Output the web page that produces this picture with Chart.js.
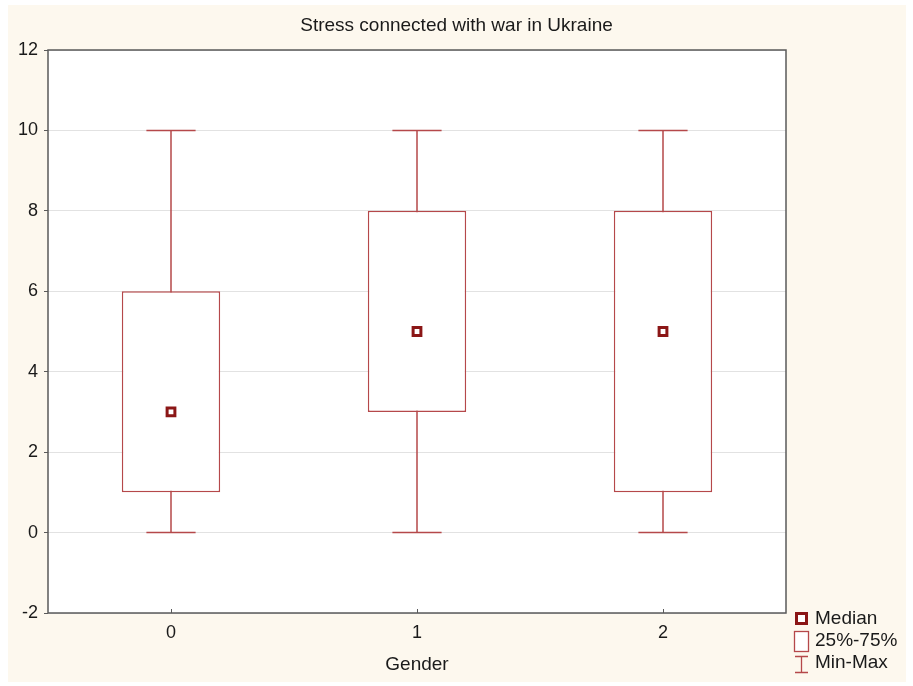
<!DOCTYPE html>
<html>
<head>
<meta charset="utf-8">
<script src="https://cdn.jsdelivr.net/npm/chart.js@4/dist/chart.umd.min.js"></script>
<style>
html,body{margin:0;padding:0;background:#ffffff;}
#wrap{width:913px;height:686px;position:relative;}
</style>
</head>
<body>
<div id="wrap"><canvas id="c" width="913" height="686"></canvas></div>
<script>
const categories = ['0', '1', '2'];
const minValues = [0, 0, 0];
const q1Values = [1, 3, 1];
const medianValues = [3, 5, 5];
const q3Values = [6, 8, 8];
const maxValues = [10, 10, 10];
const yTicks = [-2, 0, 2, 4, 6, 8, 10, 12];
const legendLabels = ['Median', '25%-75%', 'Min-Max'];

const BOX_COLOR = '#b5484a';
const MED_COLOR = '#8b1616';
const FONT = 'Liberation Sans, Arial, sans-serif';

const bgPlugin = {
  id: 'bg',
  beforeDraw(chart) {
    const ctx = chart.ctx, a = chart.chartArea;
    ctx.save();
    ctx.fillStyle = '#ffffff';
    ctx.fillRect(0, 0, chart.width, chart.height);
    ctx.fillStyle = '#fdf8ee';
    ctx.fillRect(8, 5, 898, 677);
    ctx.fillStyle = '#ffffff';
    ctx.fillRect(a.left, a.top, a.right - a.left, a.bottom - a.top);
    ctx.restore();
  }
};

const whiskerPlugin = {
  id: 'whiskers',
  beforeDatasetsDraw(chart) {
    const ctx = chart.ctx, x = chart.scales.x, y = chart.scales.y;
    const meta = chart.getDatasetMeta(0);
    ctx.save();
    ctx.strokeStyle = BOX_COLOR;
    ctx.lineWidth = 1.5;
    categories.forEach((c, i) => {
      const cx = x.getPixelForValue(i);
      const bw = meta.data[i] ? meta.data[i].width : 98;
      const cap = bw / 2;
      const yMin = y.getPixelForValue(minValues[i]);
      const yMax = y.getPixelForValue(maxValues[i]);
      ctx.beginPath();
      ctx.moveTo(cx, yMin); ctx.lineTo(cx, yMax);
      ctx.moveTo(cx - cap / 2, yMin); ctx.lineTo(cx + cap / 2, yMin);
      ctx.moveTo(cx - cap / 2, yMax); ctx.lineTo(cx + cap / 2, yMax);
      ctx.stroke();
    });
    ctx.restore();
  },
  afterDraw(chart) {
    const ctx = chart.ctx, a = chart.chartArea, x = chart.scales.x;
    ctx.save();
    ctx.strokeStyle = '#5a5a5a';
    ctx.lineWidth = 1.5;
    ctx.strokeRect(a.left, a.top, a.right - a.left, a.bottom - a.top);
    ctx.lineWidth = 1;
    categories.forEach((c, i) => {
      const cx = Math.round(x.getPixelForValue(i)) + 0.5;
      ctx.beginPath();
      ctx.moveTo(cx, a.bottom); ctx.lineTo(cx, a.bottom - 4);
      ctx.stroke();
    });
    // legend
    ctx.font = '19px ' + FONT;
    ctx.textBaseline = 'middle';
    ctx.textAlign = 'left';
    ctx.strokeStyle = MED_COLOR;
    ctx.lineWidth = 3;
    ctx.fillStyle = '#ffffff';
    ctx.fillRect(796.5, 613.5, 10, 10);
    ctx.strokeRect(796.5, 613.5, 10, 10);
    ctx.strokeStyle = BOX_COLOR;
    ctx.lineWidth = 1.3;
    ctx.fillRect(794.5, 631.5, 14, 20);
    ctx.strokeRect(794.5, 631.5, 14, 20);
    ctx.beginPath();
    ctx.moveTo(801.5, 656); ctx.lineTo(801.5, 673);
    ctx.moveTo(795, 656.5); ctx.lineTo(808, 656.5);
    ctx.moveTo(795, 672.5); ctx.lineTo(808, 672.5);
    ctx.stroke();
    ctx.fillStyle = '#1a1a1a';
    ctx.fillText(legendLabels[0], 815, 619);
    ctx.fillText(legendLabels[1], 815, 641);
    ctx.fillText(legendLabels[2], 815, 663);
    ctx.restore();
  }
};

new Chart(document.getElementById('c'), {
  data: {
    labels: categories,
    datasets: [
      {
        type: 'bar',
        data: q1Values.map((v, i) => [v, q3Values[i]]),
        backgroundColor: '#ffffff',
        borderColor: BOX_COLOR,
        borderWidth: 1.5,
        borderSkipped: false,
        barPercentage: 0.4,
        categoryPercentage: 1.0,
        order: 2
      },
      {
        type: 'line',
        data: medianValues,
        showLine: false,
        pointStyle: 'rect',
        pointRadius: 5.5,
        borderColor: MED_COLOR,
        backgroundColor: '#ffffff',
        pointBorderWidth: 3,
        order: 1
      }
    ]
  },
  options: {
    responsive: false,
    animation: false,
    layout: { padding: 0 },
    plugins: {
      legend: { display: false },
      tooltip: { enabled: false },
      title: {
        display: true,
        text: 'Stress connected with war in Ukraine',
        color: '#1a1a1a',
        font: { family: FONT, size: 19, weight: 'normal', lineHeight: 1.2 },
        padding: { top: 14, bottom: 13.2 }
      }
    },
    scales: {
      x: {
        type: 'category',
        offset: true,
        grid: { display: false, drawTicks: false },
        border: { display: false },
        ticks: { color: '#1a1a1a', font: { family: FONT, size: 18 }, padding: 9 },
        title: {
          display: true,
          text: 'Gender',
          color: '#1a1a1a',
          font: { family: FONT, size: 19, lineHeight: 1.2 },
          padding: { top: 10, bottom: 10 }
        },
        afterFit(s) { s.height = 73; }
      },
      y: {
        min: -2,
        max: 12,
        afterBuildTicks(s) { s.ticks = yTicks.map(v => ({ value: v })); },
        grid: { color: '#e2e2e2', lineWidth: 1, tickLength: 4, tickColor: '#5a5a5a' },
        border: { display: false },
        ticks: { color: '#1a1a1a', font: { family: FONT, size: 18 }, padding: 6 },
        afterFit(s) { s.width = 48; }
      },
      pad: {
        type: 'linear',
        position: 'right',
        display: true,
        grid: { display: false, drawTicks: false },
        border: { display: false },
        ticks: { display: false },
        afterFit(s) { s.width = 127; }
      }
    }
  },
  plugins: [bgPlugin, whiskerPlugin]
});
</script>
</body>
</html>
